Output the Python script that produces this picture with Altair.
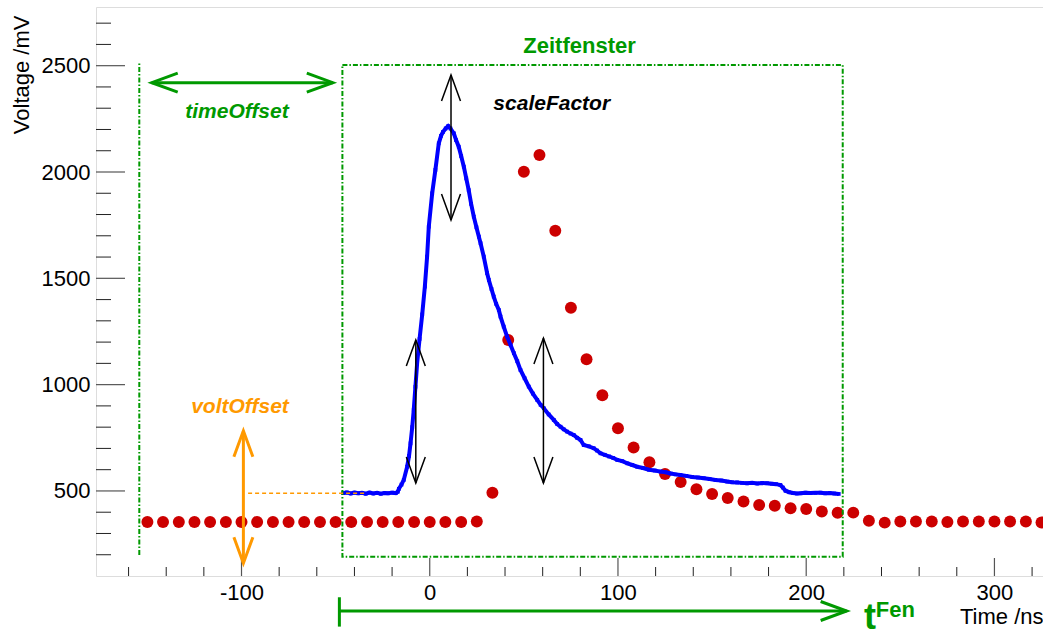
import altair as alt
import pandas as pd

# ---------------- data ----------------
# sampled pulse (red dots), time in ns, voltage in mV
dot_t = [-150.0, -141.7, -133.3, -125.0, -116.7, -108.3, -100.0, -91.7, -83.3, -75.0,
         -66.7, -58.3, -50.0, -41.7, -33.3, -25.0, -16.7, -8.3, 0.0, 8.3,
         16.7, 25.0, 33.3, 41.7, 50.0, 58.3, 66.7, 75.0, 83.3, 91.7,
         100.0, 108.3, 116.7, 125.0, 133.3, 141.7, 150.0, 158.3, 166.7, 175.0,
         183.3, 191.7, 200.0, 208.3, 216.7, 225.0, 233.3, 241.7, 250.0, 258.3,
         266.7, 275.0, 283.3, 291.7, 300.0, 308.3, 316.7, 325.0]
dot_v = [354, 354, 354, 354, 354, 354, 354, 354, 354, 354,
         354, 354, 354, 354, 354, 354, 354, 354, 354, 354,
         354, 356, 492, 1210, 2001, 2080, 1724, 1362, 1119, 950,
         795, 704, 635, 580, 542, 508, 486, 467, 450, 434,
         430, 419, 415, 403, 397, 398, 360, 351, 356, 356,
         356, 354, 356, 356, 356, 356, 356, 352]

# measured trace (blue)
trace_t = [-46.0, -44.0, -42.0, -40.0, -38.0, -36.0, -34.0, -32.0, -30.0, -28.0,
           -26.0, -24.0, -22.0, -20.0, -18.0, -17.0, -16.4, -15.0, -13.8, -12.0,
           -11.0, -10.2, -9.3, -8.5, -7.6, -6.7, -5.4, -4.0, -2.6, -1.4,
           -0.5, 1.3, 3.0, 4.8, 6.0, 7.0, 8.5, 9.8, 11.0, 12.8,
           14.0, 15.4, 16.7, 18.1, 19.4, 20.7, 22.0, 23.4, 24.8, 26.1,
           27.0, 28.7, 30.5, 31.4, 32.8, 34.0, 35.3, 36.7, 37.6, 39.3,
           41.1, 43.0, 44.7, 46.5, 48.2, 50.4, 52.6, 54.8, 57.1, 58.9,
           60.6, 63.2, 65.9, 67.7, 69.5, 71.2, 73.0, 74.8, 76.5, 78.3,
           80.1, 81.8, 84.5, 87.1, 88.9, 90.7, 93.0, 95.3, 97.5, 99.6,
           102.3, 105.0, 107.6, 110.2, 113.3, 116.4, 119.5, 122.6, 125.3, 128.0,
           130.6, 133.2, 136.3, 139.4, 142.5, 145.6, 148.7, 151.8, 154.9, 158.0,
           160.6, 163.3, 165.9, 168.6, 171.3, 174.0, 176.6, 179.3, 181.6, 184.0,
           186.3, 187.6, 189.0, 191.0, 193.0, 195.0, 197.0, 199.6, 202.3, 204.9,
           207.6, 210.0, 212.5, 214.9, 217.3]
trace_v = [490, 493, 488, 492, 489, 491, 487, 492, 488, 491,
           487, 490, 489, 492, 490, 496, 510, 530, 552, 614,
           665, 724, 800, 881, 990, 1100, 1215, 1330, 1461, 1602,
           1743, 1900, 2010, 2135, 2170, 2188, 2205, 2216, 2205, 2182,
           2150, 2119, 2075, 2025, 1970, 1915, 1850, 1790, 1740, 1696,
           1665, 1602, 1524, 1492, 1450, 1414, 1380, 1351, 1320, 1273,
           1226, 1185, 1148, 1110, 1069, 1030, 991, 958, 928, 905,
           889, 860, 834, 815, 802, 790, 779, 770, 763, 750,
           740, 716, 710, 701, 690, 677, 670, 662, 655, 646,
           640, 630, 622, 614, 608, 600, 596, 591, 588, 582,
           578, 575, 571, 566, 563, 560, 556, 552, 549, 544,
           541, 540, 538, 536, 538, 535, 537, 536, 534, 532,
           528, 516, 501, 494, 490, 488, 489, 492, 490, 491,
           492, 489, 490, 488, 486]

# axis ticks
X_MAJOR = [-100, 0, 100, 200, 300]
X_MINOR = [-160, -140, -120, -80, -60, -40, -20, 20, 40, 60, 80, 120, 140, 160, 180,
           220, 240, 260, 280, 320]
Y_MAJOR = [500, 1000, 1500, 2000, 2500]
Y_MINOR = [200, 300, 400, 600, 700, 800, 900, 1100, 1200, 1300, 1400, 1600, 1700,
           1800, 1900, 2100, 2200, 2300, 2400, 2600, 2700]

# annotation geometry (data units: ns, mV)
win_t = [-46.4, 219.4]          # "Zeitfenster" window
win_v = [190.8, 2503]
start_line_t = [-154.3]
start_line_v = [198.7, 2516]

arrow_t1 = [-147.7, 11.3, -7.4, 60.4, -99.0, -48.0]
arrow_v1 = [2420, 2456, 1210, 1219, 783, -64.6]
arrow_t2 = [-51.5, 11.3, -7.4, 60.4, -99.0, 221.5]
arrow_v2 = [2420, 1774, 537, 537, 160, -64.6]
arrow_col = ["g", "k", "k", "k", "o", "g"]

# arrow heads: tip position and direction (0 up, 90 right, 180 down, 270 left)
head_t = [-147.7, -51.5, 11.3, 11.3, -7.4, -7.4, 60.4, 60.4, -99.0, -99.0, 221.5]
head_v = [2420, 2420, 2456, 1774, 1210, 537, 1219, 537, 783, 160, -64.6]
head_a = [270, 90, 0, 180, 0, 180, 0, 180, 0, 180, 90]
head_col = ["g", "g", "k", "k", "k", "k", "k", "k", "o", "o", "g"]

bar_t = [-48.0]
bar_v = [0, -138]
volt_line_t = [-96.5, -34.4]
volt_line_v = [489]

GREEN = "#009900"
ORANGE = "#ff9900"
RED = "#cc0000"
BLUE = "#0000ff"
FONT = "Liberation Sans"

X_DOMAIN = [-177.3, 325.8]
Y_DOMAIN = [100, 2776]
W, H = 947, 569

xs = alt.Scale(domain=X_DOMAIN, nice=False, zero=False)
ys = alt.Scale(domain=Y_DOMAIN, nice=False, zero=False)

x_axis = alt.Axis(values=X_MAJOR, title="Time /ns", ticks=False, tickSize=0, domain=False,
                  grid=False, labelFontSize=22, labelFont=FONT, labelColor="black",
                  labelPadding=6, labelFlush=False, labelOverlap=False,
                  labelExpr="'' + datum.value",
                  titleFont=FONT, titleFontSize=22, titleFontWeight="normal",
                  titleColor="black", titleAnchor="end", titleAlign="right",
                  titleX=W, titleY=47, titleBaseline="alphabetic")
y_axis = alt.Axis(values=Y_MAJOR, title="Voltage /mV", ticks=False, tickSize=0, domain=False,
                  grid=False, labelFontSize=22, labelFont=FONT, labelColor="black",
                  labelPadding=6, labelFlush=False, labelOverlap=False,
                  labelExpr="'' + datum.value",
                  titleFont=FONT, titleFontSize=22, titleFontWeight="normal",
                  titleColor="black", titleAngle=270, titleAlign="right",
                  titleX=-68, titleY=8, titleBaseline="alphabetic")


def X(field="t"):
    return alt.X(f"{field}:Q", scale=xs, axis=x_axis)


def Y(field="v"):
    return alt.Y(f"{field}:Q", scale=ys, axis=y_axis)


dots = pd.DataFrame({"t": dot_t, "v": dot_v})
trace = pd.DataFrame({"t": trace_t, "v": trace_v})

# ticks (inward, ROOT style)
xmaj = pd.DataFrame({"t": X_MAJOR})
xmin = pd.DataFrame({"t": X_MINOR})
ymaj = pd.DataFrame({"v": Y_MAJOR})
ymin = pd.DataFrame({"v": Y_MINOR})

layers = []

# red dots
layers.append(alt.Chart(dots).mark_circle(size=143, color=RED, opacity=1).encode(
    x=X(), y=Y()))

# blue trace
layers.append(alt.Chart(trace).mark_line(color=BLUE, strokeWidth=4).encode(x=X(), y=Y()))
layers.append(alt.Chart(trace).mark_point(shape="square", filled=True, size=14, color=BLUE,
                                          opacity=1).encode(x=X(), y=Y()))

# ticks
layers.append(alt.Chart(xmaj).mark_rule(color="#555", strokeWidth=1.2).encode(
    x=X(), y=alt.value(H), y2=alt.value(H - 18)))
layers.append(alt.Chart(xmin).mark_rule(color="#222", strokeWidth=1).encode(
    x=X(), y=alt.value(H), y2=alt.value(H - 9)))
layers.append(alt.Chart(ymaj).mark_rule(color="#555", strokeWidth=1.2).encode(
    y=Y(), x=alt.value(0), x2=alt.value(29)))
layers.append(alt.Chart(ymin).mark_rule(color="#222", strokeWidth=1).encode(
    y=Y(), x=alt.value(0), x2=alt.value(15)))

DASHDOT = [5, 2, 1.5, 2]
# time window rectangle
win = pd.DataFrame({"t": [win_t[0]], "t2": [win_t[1]], "v": [win_v[0]], "v2": [win_v[1]]})
layers.append(alt.Chart(win).mark_rect(filled=False, stroke=GREEN, strokeWidth=2,
                                       strokeDash=DASHDOT).encode(
    x=X(), x2="t2:Q", y=Y(), y2="v2:Q"))
# start line
sl = pd.DataFrame({"t": start_line_t, "v": [start_line_v[0]], "v2": [start_line_v[1]]})
layers.append(alt.Chart(sl).mark_rule(color=GREEN, strokeWidth=2, strokeDash=DASHDOT).encode(
    x=X(), y=Y(), y2="v2:Q"))

# voltOffset dashed level line
vl = pd.DataFrame({"t": [volt_line_t[0]], "t2": [volt_line_t[1]], "v": volt_line_v})
layers.append(alt.Chart(vl).mark_rule(color=ORANGE, strokeWidth=1.5, strokeDash=[4, 3]).encode(
    x=X(), x2="t2:Q", y=Y()))

colmap = {"g": (GREEN, 3), "o": (ORANGE, 3), "k": ("black", 1.5)}
arrows = pd.DataFrame({"t": arrow_t1, "v": arrow_v1, "t2": arrow_t2, "v2": arrow_v2,
                       "c": arrow_col})
heads = pd.DataFrame({"t": head_t, "v": head_v, "a": head_a, "c": head_col})
HEAD = "M -0.365 1 L 0 0 L 0.365 1"
for key, (col, sw) in colmap.items():
    layers.append(alt.Chart(arrows[arrows.c == key]).mark_rule(color=col, strokeWidth=sw).encode(
        x=X(), y=Y(), x2="t2:Q", y2="v2:Q"))
    layers.append(alt.Chart(heads[heads.c == key]).mark_point(
        shape=HEAD, filled=False, size=2704, color=col, strokeWidth=sw, opacity=1).encode(
        x=X(), y=Y(), angle=alt.Angle("a:Q", scale=None)))

# bar at start of t^Fen arrow
bar = pd.DataFrame({"t": bar_t, "v": [bar_v[0]], "v2": [bar_v[1]]})
layers.append(alt.Chart(bar).mark_rule(color=GREEN, strokeWidth=3).encode(
    x=X(), y=Y(), y2="v2:Q"))

# texts
texts = [
    ("Zeitfenster", 79.6, 2560, GREEN, 22, "normal", "center"),
    ("timeOffset", -102.4, 2254, GREEN, 21, "italic", "center"),
    ("scaleFactor", 33.8, 2292, "black", 21, "italic", "left"),
    ("voltOffset", -100.8, 867, ORANGE, 21, "italic", "center"),
    ("t", 230.7, -148, GREEN, 36, "normal", "left"),
    ("Fen", 237.0, -92.8, GREEN, 22, "normal", "left"),
]
for txt, tt, vv, col, fs, style, al in texts:
    df = pd.DataFrame({"t": [tt], "v": [vv], "s": [txt]})
    layers.append(alt.Chart(df).mark_text(
        font=FONT, fontSize=fs, fontWeight="bold", fontStyle=style, color=col,
        align=al, baseline="alphabetic").encode(x=X(), y=Y(), text="s:N"))

chart = alt.layer(*layers).properties(
    width=W, height=H,
    autosize=alt.AutoSizeParams(type="none"),
    padding={"left": 96, "top": 7, "right": 0, "bottom": 57},
).configure_view(stroke="#808080", strokeWidth=1.5).configure(background="white")

chart.save("out.html", embed_options={"renderer": "svg", "actions": False})
